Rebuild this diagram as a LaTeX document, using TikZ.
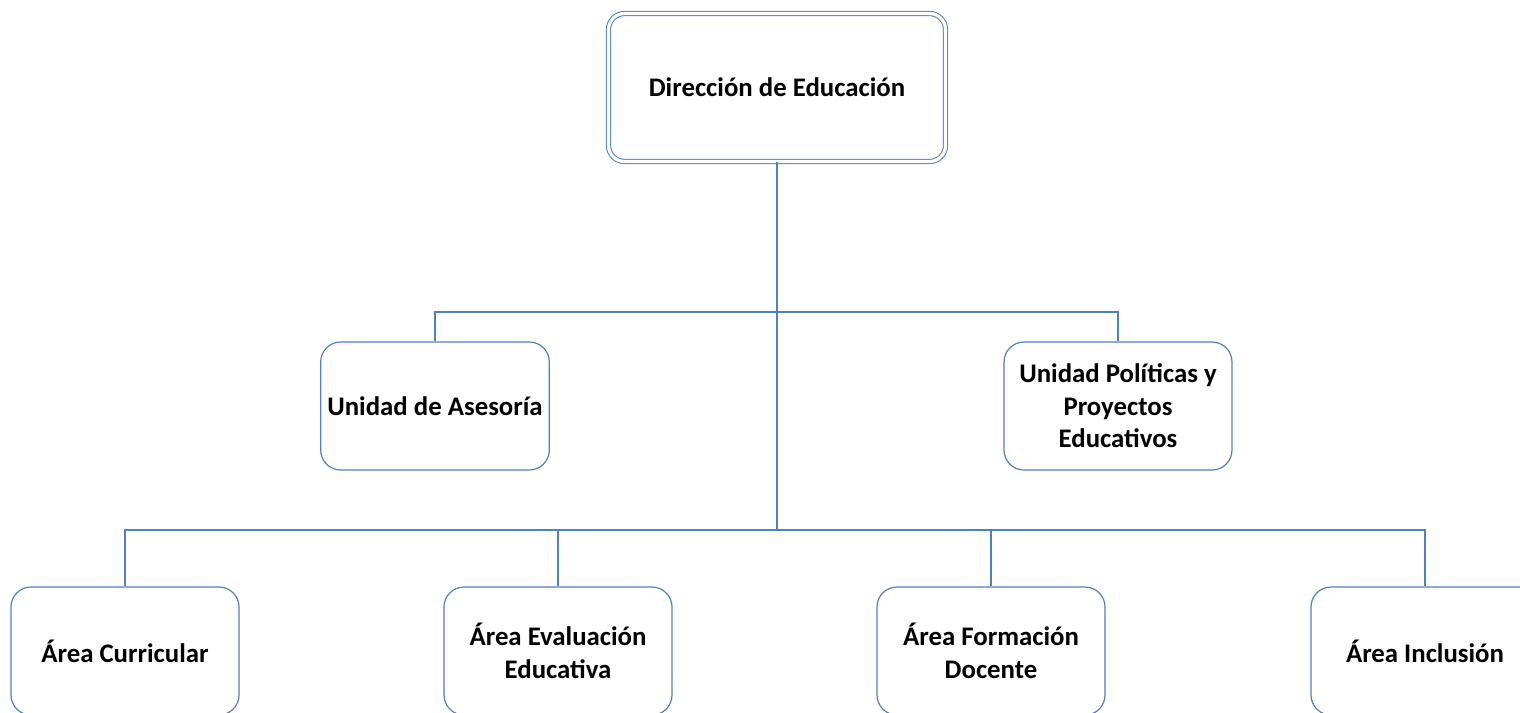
\documentclass[tikz,border=0pt]{standalone}
\usepackage{fontspec}
\setmainfont{Carlito}
\definecolor{orgblue}{HTML}{4F81BD}
\begin{document}
\begin{tikzpicture}[x=0.5pt,y=-0.5pt,
  unitbox/.style={draw=orgblue,line width=0.6pt,rounded corners=10pt,fill=white,
    minimum width=114pt,minimum height=64pt,align=center,
    font=\fontsize{13.4}{16.2}\selectfont\bfseries},
  headbox/.style={unitbox,double=white,double distance=1.6pt,line width=0.5pt,
    minimum width=168.5pt,minimum height=74pt,rounded corners=8pt},
  bus/.style={draw=orgblue,line width=1pt},
  link/.style={draw=orgblue,line width=0.6pt}]
\useasboundingbox (0,0) rectangle (1520,712);
\clip (0,0) rectangle (1520,712);
\node[headbox] (dir) at (777,87.5) {Dirección de Educación};
\node[unitbox] (ase) at (435,406) {Unidad de Asesoría};
\node[unitbox] (pol) at (1118,406) {Unidad Políticas y\\Proyectos\\Educativos};
\node[unitbox] (cur) at (125,651) {Área Curricular};
\node[unitbox] (eva) at (558,651) {Área Evaluación\\Educativa};
\node[unitbox] (for) at (991,651) {Área Formación\\Docente};
\node[unitbox] (inc) at (1425,651) {Área Inclusión};
\coordinate (mid) at (777,312);
\coordinate (hub) at (777,530);
% enlaces
\draw[link] (ase.north) |- (mid) -| (pol.north);
\draw[bus] (dir.south) -- (hub);
\draw[bus] (cur.north) |- (hub) -| (inc.north);
\draw[bus] (eva.north) -- (eva.north |- hub);
\draw[bus] (for.north) -- (for.north |- hub);
\end{tikzpicture}
\end{document}
